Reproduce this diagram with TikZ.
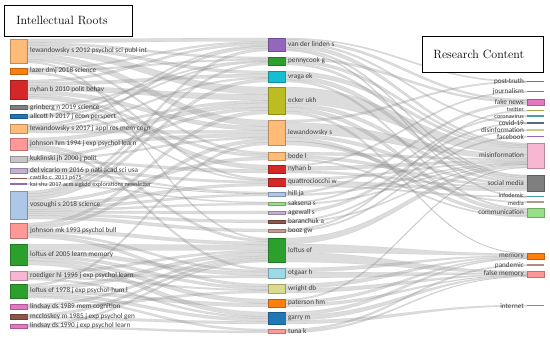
\documentclass[tikz,border=0pt]{standalone}
\usepackage{fontspec}
\setsansfont{Carlito}
\usetikzlibrary{positioning,calc}
\definecolor{tBlue}{HTML}{1F77B4}
\definecolor{tLBlue}{HTML}{AEC7E8}
\definecolor{tOrange}{HTML}{FF7F0E}
\definecolor{tLOrange}{HTML}{FFBB78}
\definecolor{tGreen}{HTML}{2CA02C}
\definecolor{tLGreen}{HTML}{98DF8A}
\definecolor{tRed}{HTML}{D62728}
\definecolor{tLRed}{HTML}{FF9896}
\definecolor{tPurple}{HTML}{9467BD}
\definecolor{tLPurple}{HTML}{C5B0D5}
\definecolor{tBrown}{HTML}{8C564B}
\definecolor{tLBrown}{HTML}{C49C94}
\definecolor{tPink}{HTML}{E377C2}
\definecolor{tLPink}{HTML}{F7B6D2}
\definecolor{tGray}{HTML}{7F7F7F}
\definecolor{tLGray}{HTML}{C7C7C7}
\definecolor{tOlive}{HTML}{BCBD22}
\definecolor{tLOlive}{HTML}{DBDB8D}
\definecolor{tCyan}{HTML}{17BECF}
\definecolor{tLCyan}{HTML}{9EDAE5}
\tikzset{
  box/.style={rectangle, fill=#1, draw=#1!75!black, line width=0.4pt, minimum width=17pt, inner sep=0pt, outer sep=0pt, anchor=north west},
  barline/.style={rectangle, fill=#1, draw=none, minimum width=17pt, minimum height=1.3pt, inner sep=0pt, outer sep=0pt, anchor=north west},
  lab/.style={font=\sffamily\fontsize{7.2}{8}\selectfont, text=black!75, inner sep=0pt},
  labsmall/.style={lab, font=\sffamily\fontsize{6.2}{7}\selectfont},
  flow/.style={fill=black!45, fill opacity=0.3, draw=black!45, draw opacity=0.3, line width=0.25pt},
  titlebox/.style={draw, line width=0.7pt, fill=white, align=left, font=\fontsize{12}{14}\selectfont, anchor=north west}
}
% band from the east side of #1 to the west side of #4
\newcommand{\band}[6]{%
  \path[flow] ($(#1.north east)!#2!(#1.south east)$) .. controls +(110,0) and +(-110,0) .. ($(#4.north west)!#5!(#4.south west)$)
    -- ($(#4.north west)!#6!(#4.south west)$) .. controls +(-110,0) and +(110,0) .. ($(#1.north east)!#3!(#1.south east)$) -- cycle;}
\begin{document}
\begin{tikzpicture}[x=1pt,y=-1pt]
\useasboundingbox (0,0) rectangle (550,342);

% intellectual roots
\node[box=tLOrange, minimum height=24pt] (ref1) at (10,39) {};
\node[box=tOrange, minimum height=6pt] (ref2) at (10,68) {};
\node[box=tRed, minimum height=19pt] (ref3) at (10,80) {};
\node[box=tGray, minimum height=3.5pt] (ref4) at (10,105.5) {};
\node[box=tBlue, minimum height=3.5pt] (ref5) at (10,114.5) {};
\node[box=tLOrange, minimum height=9pt] (ref6) at (10,124) {};
\node[box=tLRed, minimum height=12pt] (ref7) at (10,138) {};
\node[box=tLGray, minimum height=6pt] (ref8) at (10,156) {};
\node[box=tLPurple, minimum height=5pt] (ref9) at (10,168) {};
\node[barline=tBrown] (ref10) at (10,178) {};
\node[barline=tPurple!70!gray] (ref11) at (10,183.4) {};
\node[box=tLBlue, minimum height=28pt] (ref12) at (10,191) {};
\node[box=tLRed, minimum height=15pt] (ref13) at (10,223) {};
\node[box=tGreen, minimum height=21pt] (ref14) at (10,244) {};
\node[box=tLPink, minimum height=9pt] (ref15) at (10,271) {};
\node[box=tGreen, minimum height=14pt] (ref16) at (10,284) {};
\node[box=tPink, minimum height=5pt] (ref17) at (10,304) {};
\node[box=tBrown, minimum height=5pt] (ref18) at (10,314) {};
\node[box=tPink, minimum height=4pt] (ref19) at (10,324) {};

% authors
\node[box=tPurple, minimum height=13pt] (au1) at (268,38) {};
\node[box=tGreen, minimum height=8pt] (au2) at (268,57) {};
\node[box=tCyan, minimum height=11pt] (au3) at (268,71) {};
\node[box=tOlive, minimum height=27pt] (au4) at (268,87) {};
\node[box=tLOrange, minimum height=25pt] (au5) at (268,120) {};
\node[box=tLOrange, minimum height=8pt] (au6) at (268,152) {};
\node[box=tRed, minimum height=8pt] (au7) at (268,165) {};
\node[box=tRed, minimum height=8pt] (au8) at (268,178) {};
\node[box=tLBlue, minimum height=4pt] (au9) at (268,192) {};
\node[box=tLGreen, minimum height=3pt] (au10) at (268,202) {};
\node[box=tLPurple, minimum height=3pt] (au11) at (268,211) {};
\node[box=tBrown, minimum height=3pt] (au12) at (268,220) {};
\node[box=tLBrown, minimum height=3pt] (au13) at (268,229) {};
\node[box=tGreen, minimum height=24pt] (au14) at (268,238) {};
\node[box=tLCyan, minimum height=10pt] (au15) at (268,268) {};
\node[box=tLOlive, minimum height=9pt] (au16) at (268,284) {};
\node[box=tOrange, minimum height=8pt] (au17) at (268,299) {};
\node[box=tBlue, minimum height=12pt] (au18) at (268,312) {};
\node[box=tLRed, minimum height=4pt] (au19) at (268,329) {};

% research content
\node[barline=tBlue!35!gray] (kw1) at (527,81) {};
\node[barline=tGreen!25!gray] (kw2) at (527,91) {};
\node[box=tPink, minimum height=6pt] (kw3) at (527,99) {};
\node[barline=tOlive!60!gray] (kw4) at (527,110) {};
\node[barline=tCyan!45!gray] (kw5) at (527,115.5) {};
\node[barline=tBlue!40!black!70] (kw6) at (527,122.5) {};
\node[barline=tLOlive!80!gray] (kw7) at (527,129.5) {};
\node[barline=tPurple] (kw8) at (527,136) {};
\node[box=tLPink, minimum height=25pt] (kw9) at (527,143) {};
\node[box=tGray, minimum height=16pt] (kw10) at (527,175) {};
\node[barline=tCyan!50!gray] (kw11) at (527,196) {};
\node[barline=tLBrown!80!gray] (kw12) at (527,201.5) {};
\node[box=tLGreen, minimum height=9pt] (kw13) at (527,208) {};
\node[box=tOrange, minimum height=6pt] (kw14) at (527,253) {};
\node[barline=tLBrown!90!black] (kw15) at (527,264.5) {};
\node[box=tLRed, minimum height=6pt] (kw16) at (527,271) {};
\node[barline=tCyan!60!gray] (kw17) at (527,305) {};

% roots to authors
\band{ref1}{0}{.15}{au1}{0}{.25}
\band{ref1}{.15}{.25}{au2}{0}{.24}
\band{ref1}{.25}{.38}{au3}{0}{.27}
\band{ref1}{.38}{.62}{au4}{0}{.27}
\band{ref1}{.62}{.85}{au5}{0}{.25}
\band{ref1}{.85}{.93}{au6}{0}{.27}
\band{ref1}{.93}{1}{au14}{0}{.06}
\band{ref2}{0}{.3}{au1}{.25}{.38}
\band{ref2}{.3}{.6}{au2}{.24}{.42}
\band{ref2}{.6}{1}{au8}{0}{.23}
\band{ref3}{0}{.12}{au1}{.38}{.54}
\band{ref3}{.12}{.3}{au3}{.27}{.56}
\band{ref3}{.3}{.55}{au4}{.27}{.49}
\band{ref3}{.55}{.75}{au5}{.25}{.42}
\band{ref3}{.75}{.88}{au6}{.27}{.61}
\band{ref3}{.88}{1}{au7}{0}{.55}
\band{ref4}{0}{.5}{au2}{.42}{.57}
\band{ref4}{.5}{1}{au8}{.23}{.37}
\band{ref5}{0}{.5}{au1}{.54}{.64}
\band{ref5}{.5}{1}{au2}{.57}{.72}
\band{ref6}{0}{.25}{au1}{.64}{.8}
\band{ref6}{.25}{.45}{au3}{.56}{.71}
\band{ref6}{.45}{.7}{au4}{.49}{.59}
\band{ref6}{.7}{1}{au5}{.42}{.54}
\band{ref7}{0}{.3}{au4}{.59}{.76}
\band{ref7}{.3}{.55}{au5}{.54}{.68}
\band{ref7}{.55}{.8}{au14}{.06}{.16}
\band{ref7}{.8}{1}{au15}{0}{.21}
\band{ref8}{0}{.4}{au4}{.76}{.87}
\band{ref8}{.4}{.7}{au5}{.68}{.76}
\band{ref8}{.7}{1}{au7}{.55}{1}
\band{ref9}{0}{.6}{au8}{.37}{.66}
\band{ref9}{.6}{1}{au9}{0}{.35}
\band{ref10}{0}{1}{au9}{.35}{.5}
\band{ref11}{0}{1}{au10}{0}{.35}
\band{ref12}{0}{.1}{au1}{.8}{1}
\band{ref12}{.1}{.2}{au2}{.72}{1}
\band{ref12}{.2}{.32}{au3}{.71}{1}
\band{ref12}{.32}{.42}{au6}{.61}{1}
\band{ref12}{.42}{.55}{au8}{.66}{1}
\band{ref12}{.55}{.65}{au9}{.5}{1}
\band{ref12}{.65}{.72}{au10}{.35}{1}
\band{ref12}{.72}{.8}{au11}{0}{1}
\band{ref12}{.8}{.88}{au12}{0}{1}
\band{ref12}{.88}{1}{au13}{0}{1}
\band{ref13}{0}{.2}{au4}{.87}{1}
\band{ref13}{.2}{.4}{au5}{.76}{.9}
\band{ref13}{.4}{.65}{au14}{.16}{.29}
\band{ref13}{.65}{.8}{au15}{.21}{.41}
\band{ref13}{.8}{1}{au16}{0}{.29}
\band{ref14}{0}{.3}{au14}{.29}{.51}
\band{ref14}{.3}{.5}{au15}{.41}{.77}
\band{ref14}{.5}{.65}{au16}{.29}{.59}
\band{ref14}{.65}{.8}{au17}{0}{.53}
\band{ref14}{.8}{1}{au18}{0}{.37}
\band{ref15}{0}{.3}{au14}{.51}{.6}
\band{ref15}{.3}{.6}{au15}{.77}{1}
\band{ref15}{.6}{.8}{au16}{.59}{.76}
\band{ref15}{.8}{1}{au18}{.37}{.53}
\band{ref16}{0}{.15}{au5}{.9}{1}
\band{ref16}{.15}{.45}{au14}{.6}{.75}
\band{ref16}{.45}{.65}{au17}{.53}{1}
\band{ref16}{.65}{.85}{au18}{.53}{.78}
\band{ref16}{.85}{1}{au19}{0}{.5}
\band{ref17}{0}{.5}{au14}{.75}{.84}
\band{ref17}{.5}{1}{au16}{.76}{1}
\band{ref18}{0}{.5}{au14}{.84}{.93}
\band{ref18}{.5}{1}{au18}{.78}{1}
\band{ref19}{0}{.5}{au14}{.93}{1}
\band{ref19}{.5}{1}{au19}{.5}{1}

% authors to research content
\band{au1}{0}{.1}{kw1}{0}{1}
\band{au1}{.1}{.3}{kw3}{0}{.3}
\band{au1}{.3}{.45}{kw6}{0}{1}
\band{au1}{.45}{.75}{kw9}{0}{.06}
\band{au1}{.75}{.9}{kw10}{0}{.07}
\band{au1}{.9}{1}{kw11}{0}{1}
\band{au2}{0}{.3}{kw3}{.3}{.6}
\band{au2}{.3}{.7}{kw9}{.06}{.12}
\band{au2}{.7}{1}{kw10}{.07}{.16}
\band{au3}{0}{.4}{kw9}{.12}{.19}
\band{au3}{.4}{.8}{kw10}{.16}{.33}
\band{au3}{.8}{1}{kw13}{0}{.19}
\band{au4}{0}{.6}{kw9}{.19}{.45}
\band{au4}{.6}{.75}{kw10}{.33}{.48}
\band{au4}{.75}{.9}{kw13}{.19}{.54}
\band{au4}{.9}{1}{kw14}{0}{.1}
\band{au5}{0}{.1}{kw1}{0}{1}
\band{au5}{.1}{.55}{kw9}{.45}{.63}
\band{au5}{.55}{.7}{kw10}{.48}{.62}
\band{au5}{.7}{.85}{kw13}{.54}{.86}
\band{au5}{.85}{1}{kw12}{0}{1}
\band{au6}{0}{.4}{kw9}{.63}{.68}
\band{au6}{.4}{.8}{kw10}{.62}{.75}
\band{au6}{.8}{1}{kw13}{.86}{1}
\band{au7}{0}{.2}{kw2}{0}{1}
\band{au7}{.2}{.7}{kw9}{.68}{.75}
\band{au7}{.7}{1}{kw10}{.75}{.84}
\band{au8}{0}{.3}{kw9}{.75}{.79}
\band{au8}{.3}{.8}{kw10}{.84}{1}
\band{au8}{.8}{1}{kw11}{0}{1}
\band{au9}{0}{.5}{kw3}{.6}{1}
\band{au9}{.5}{1}{kw9}{.79}{.82}
\band{au10}{0}{.5}{kw5}{0}{1}
\band{au10}{.5}{1}{kw9}{.82}{.85}
\band{au11}{0}{1}{kw6}{0}{1}
\band{au12}{0}{.5}{kw7}{0}{1}
\band{au12}{.5}{1}{kw9}{.85}{.87}
\band{au13}{0}{.5}{kw4}{0}{1}
\band{au13}{.5}{1}{kw8}{0}{1}
\band{au14}{0}{.25}{kw9}{.87}{.97}
\band{au14}{.25}{.6}{kw14}{.1}{.41}
\band{au14}{.6}{1}{kw16}{0}{.33}
\band{au15}{0}{.4}{kw14}{.41}{.56}
\band{au15}{.4}{1}{kw16}{.33}{.53}
\band{au16}{0}{.5}{kw14}{.56}{.72}
\band{au16}{.5}{1}{kw16}{.53}{.69}
\band{au17}{0}{.2}{kw9}{.97}{1}
\band{au17}{.2}{.6}{kw14}{.72}{.87}
\band{au17}{.6}{1}{kw16}{.69}{.77}
\band{au18}{0}{.3}{kw14}{.87}{1}
\band{au18}{.3}{.7}{kw16}{.77}{.93}
\band{au18}{.7}{1}{kw17}{0}{1}
\band{au19}{0}{.5}{kw15}{0}{1}
\band{au19}{.5}{1}{kw16}{.93}{1}

% labels
\node[lab, right=3pt of ref1] {lewandowsky s 2012 psychol sci publ int};
\node[lab, right=3pt of ref2] {lazer dmj 2018 science};
\node[lab, right=3pt of ref3] {nyhan b 2010 polit behav};
\node[lab, right=3pt of ref4] {grinberg n 2019 science};
\node[lab, right=3pt of ref5] {allcott h 2017 j econ perspect};
\node[lab, right=3pt of ref6] {lewandowsky s 2017 j appl res mem cogn};
\node[lab, right=3pt of ref7] {johnson hm 1994 j exp psychol learn};
\node[lab, right=3pt of ref8] {kuklinski jh 2000 j polit};
\node[lab, right=3pt of ref9] {del vicario m 2016 p natl acad sci usa};
\node[labsmall, right=3pt of ref10, yshift=0.8pt] {castillo c. 2011 p675};
\node[labsmall, right=3pt of ref11, yshift=-0.8pt] {kai shu 2017 acm sigkdd explorations newsletter};
\node[lab, right=3pt of ref12] {vosoughi s 2018 science};
\node[lab, right=3pt of ref13] {johnson mk 1993 psychol bull};
\node[lab, right=3pt of ref14] {loftus ef 2005 learn memory};
\node[lab, right=3pt of ref15] {roediger hl 1995 j exp psychol learn};
\node[lab, right=3pt of ref16] {loftus ef 1978 j exp psychol-hum l};
\node[lab, right=3pt of ref17] {lindsay ds 1989 mem cognition};
\node[lab, right=3pt of ref18] {mccloskey m 1985 j exp psychol gen};
\node[lab, right=3pt of ref19] {lindsay ds 1990 j exp psychol learn};

\node[lab, right=3pt of au1] {van der linden s};
\node[lab, right=3pt of au2] {pennycook g};
\node[lab, right=3pt of au3] {vraga ek};
\node[lab, right=3pt of au4] {ecker ukh};
\node[lab, right=3pt of au5] {lewandowsky s};
\node[lab, right=3pt of au6] {bode l};
\node[lab, right=3pt of au7] {nyhan b};
\node[lab, right=3pt of au8] {quattrociocchi w};
\node[lab, right=3pt of au9] {hill ja};
\node[lab, right=3pt of au10] {saksena s};
\node[lab, right=3pt of au11] {agewall s};
\node[lab, right=3pt of au12] {baranchuk a};
\node[lab, right=3pt of au13] {booz gw};
\node[lab, right=3pt of au14] {loftus ef};
\node[lab, right=3pt of au15] {otgaar h};
\node[lab, right=3pt of au16] {wright db};
\node[lab, right=3pt of au17] {paterson hm};
\node[lab, right=3pt of au18] {garry m};
\node[lab, right=3pt of au19] {tuna k};

\node[lab, left=3pt of kw1] {post-truth};
\node[lab, left=3pt of kw2] {journalism};
\node[lab, left=3pt of kw3] {fake news};
\node[labsmall, left=3pt of kw4, yshift=0.8pt] {twitter};
\node[labsmall, left=3pt of kw5, yshift=-0.5pt] {coronavirus};
\node[lab, left=3pt of kw6] {covid-19};
\node[lab, left=3pt of kw7] {disinformation};
\node[lab, left=3pt of kw8] {facebook};
\node[lab, left=3pt of kw9] {misinformation};
\node[lab, left=3pt of kw10] {social media};
\node[labsmall, left=3pt of kw11, yshift=0.8pt] {infodemic};
\node[labsmall, left=3pt of kw12, yshift=-0.8pt] {media};
\node[lab, left=3pt of kw13] {communication};
\node[lab, left=3pt of kw14] {memory};
\node[lab, left=3pt of kw15] {pandemic};
\node[lab, left=3pt of kw16] {false memory};
\node[lab, left=3pt of kw17] {internet};

% column titles
\node[titlebox, text width=104pt, inner xsep=12pt, minimum height=31pt] (roots) at (4,5) {Intellectual Roots};
\node[titlebox, text width=99pt, inner xsep=11pt, minimum height=36pt] (content) at (422,36) {Research Content};
\end{tikzpicture}
\end{document}
